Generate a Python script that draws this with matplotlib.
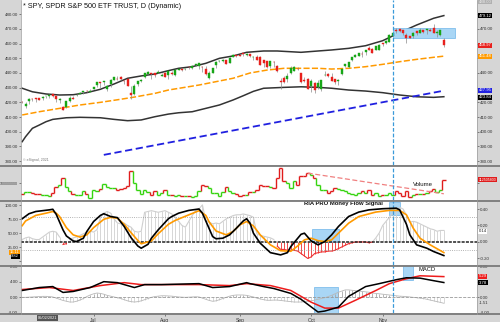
import numpy as np
import pandas as pd
import matplotlib
matplotlib.use('Agg')
import matplotlib.pyplot as plt
from matplotlib.collections import LineCollection
from matplotlib.patches import Rectangle

plt.rcParams['font.family'] = ['Liberation Sans', 'DejaVu Sans']

# daily bars, 2 Jun 2021 - 26 Nov 2021
holidays = ['2021-07-05', '2021-09-06', '2021-11-25']
dates = pd.bdate_range('2021-06-02', '2021-11-26')
dates = dates[~dates.isin(pd.to_datetime(holidays))]

opens = [420.37, 417.85, 420.75, 422.59, 423.11, 423.18, 422.96, 424.20, 424.43, 425.42, 424.63, 421.67, 417.09, 416.80, 420.85, 423.19, 424.89, 425.90, 427.17, 427.88, 427.21,
         428.87, 431.67, 433.78, 433.66, 428.78, 432.53, 435.43, 436.24, 437.40, 434.81, 436.01, 426.19, 425.68, 432.34, 434.74, 437.52, 439.31, 439.91, 439.68, 439.82, 437.91,
         440.34, 438.44, 439.78, 438.94, 442.10, 442.46, 442.61, 443.82, 443.62, 445.59, 444.53, 444.24, 442.96, 436.27, 440.23, 445.16, 447.97, 448.17, 448.61, 447.12, 450.97, 452.13,
         452.56, 453.32, 451.98, 452.71, 450.89, 450.70, 451.04, 448.64, 448.12, 444.62, 447.32, 444.92, 434.88, 436.53, 436.05, 439.85, 441.44, 442.81, 439.69, 435.19, 436.02,
         430.98, 433.00, 430.24, 429.27, 438.39, 439.48, 437.16, 435.67, 434.71, 439.08, 444.75, 443.97, 448.92, 451.13, 451.77, 453.13, 454.28, 457.20, 456.45, 455.46, 455.87,
         460.30, 460.22, 461.30, 465.36, 469.28, 469.70, 469.32, 465.58, 465.21, 465.12, 468.64, 467.15, 469.00, 469.24, 469.61, 470.89, 467.22, 466.06, 462.34]
highs = [421.23, 419.99, 422.92, 422.78, 423.21, 423.26, 424.63, 424.43, 425.37, 425.46, 424.87, 423.02, 417.83, 421.06, 424.00, 424.05, 425.55, 427.09, 427.65, 428.56, 428.78,
         430.60, 434.10, 434.01, 434.76, 431.73, 435.84, 437.35, 437.84, 437.92, 435.53, 436.06, 431.41, 432.42, 434.70, 435.72, 440.30, 441.03, 439.94, 440.30, 441.80, 440.06,
         440.93, 441.28, 441.12, 441.85, 442.94, 442.80, 443.44, 443.88, 445.26, 445.94, 447.11, 444.96, 444.63, 441.14, 443.71, 448.23, 448.54, 449.46, 448.86, 450.65, 453.07, 452.49,
         453.11, 454.05, 453.63, 452.81, 451.67, 452.57, 451.49, 448.92, 448.34, 448.41, 448.36, 445.37, 436.56, 437.91, 440.03, 444.89, 444.67, 444.05, 440.04, 437.04, 436.77,
         436.03, 433.96, 435.49, 435.12, 441.68, 439.89, 440.26, 436.10, 436.05, 442.66, 446.26, 447.55, 450.71, 452.73, 453.83, 454.67, 455.90, 458.49, 457.16, 458.40, 459.56,
         460.70, 462.23, 466.46, 467.48, 470.65, 470.23, 469.57, 467.38, 465.29, 467.86, 468.81, 470.49, 469.19, 470.01, 470.94, 473.54, 469.10, 469.57, 463.90]
lows = [419.29, 416.28, 418.84, 421.19, 420.32, 421.41, 421.55, 422.82, 422.82, 423.54, 419.92, 419.32, 414.70, 415.93, 420.08, 422.51, 424.62, 425.55, 425.89, 427.13, 427.18,
        428.80, 430.52, 430.01, 431.51, 427.52, 430.71, 434.97, 435.31, 434.91, 432.72, 430.92, 421.97, 424.83, 431.01, 433.69, 436.79, 439.26, 435.99, 437.31, 439.81, 437.77,
        437.21, 436.10, 438.73, 438.20, 441.80, 441.31, 441.88, 442.62, 442.66, 445.07, 442.87, 440.85, 438.92, 436.12, 439.71, 443.44, 447.42, 447.77, 446.16, 447.06, 450.71, 450.92,
        451.55, 451.91, 451.55, 450.74, 448.86, 448.72, 445.31, 444.11, 443.22, 443.44, 444.02, 441.02, 428.86, 433.07, 433.75, 439.60, 441.21, 441.90, 432.94, 433.85, 428.78,
        427.23, 426.36, 429.39, 427.54, 438.20, 437.19, 434.62, 432.78, 431.54, 438.58, 444.09, 443.27, 448.27, 451.01, 451.31, 451.05, 452.39, 455.56, 453.86, 455.45, 455.56,
        458.20, 460.08, 460.83, 464.99, 466.92, 468.20, 465.88, 460.66, 463.75, 464.11, 466.23, 467.07, 467.48, 466.34, 468.50, 467.35, 464.45, 465.19, 457.77]
closes = [420.33, 418.77, 422.60, 422.19, 422.28, 421.65, 423.61, 424.31, 425.26, 424.48, 422.11, 421.97, 414.92, 420.86, 423.11, 422.60, 425.10, 426.61, 427.47, 427.70, 428.06,
          430.43, 433.72, 432.93, 434.46, 430.92, 435.52, 437.08, 435.59, 436.24, 434.75, 431.34, 424.97, 431.06, 434.55, 435.46, 439.94, 441.02, 439.01, 438.83, 440.65, 438.51,
          437.59, 441.15, 438.98, 441.76, 442.49, 442.13, 442.68, 443.78, 445.11, 445.92, 446.97, 444.04, 439.18, 439.86, 443.36, 447.26, 447.97, 448.91, 446.26, 450.25, 452.23, 451.56,
          451.80, 453.19, 453.08, 451.46, 450.91, 448.98, 445.44, 446.58, 444.17, 447.88, 447.17, 441.40, 434.04, 433.63, 437.86, 443.18, 443.91, 442.64, 433.72, 434.45, 429.14,
          434.24, 428.64, 433.10, 434.90, 438.66, 437.86, 434.69, 433.62, 435.18, 442.50, 445.87, 447.19, 450.64, 452.41, 453.59, 453.12, 455.55, 455.96, 453.94, 458.32, 459.25,
          460.04, 461.90, 466.09, 467.38, 468.53, 468.93, 467.38, 463.62, 463.77, 467.27, 467.43, 469.28, 468.14, 469.73, 468.89, 467.57, 468.19, 469.44, 458.97]

# volume in millions of shares
volume = [57, 65, 65, 60, 56, 56, 53, 53, 49, 60, 84, 91, 120, 84, 67, 57, 53, 53, 67, 57,
          40, 74, 67, 76, 98, 84, 80, 80, 71, 76, 80, 87, 147, 100, 74, 57, 74, 63, 53, 67,
          53, 60, 74, 53, 53, 47, 53, 49, 49, 49, 44, 47, 67, 94, 90, 80, 60, 60, 47, 63,
          84, 67, 60, 57, 49, 53, 53, 63, 63, 74, 94, 90, 87, 84, 80, 120, 160, 107, 100, 80,
          107, 94, 127, 127, 140, 134, 120, 94, 74, 74, 60, 67, 80, 76, 71, 67, 60, 57, 53, 60,
          67, 60, 74, 53, 60, 49, 53, 53, 60, 53, 67, 60, 47, 67, 43, 53, 56, 56, 57, 60,
          67, 76, 63, 74, 113]

# Bollinger (50) bands and middle average, read at selected bars
upper_idx = [0, 3, 7, 11, 15, 19, 23, 27, 31, 35, 39, 43, 46, 50, 54, 58, 62, 66, 71, 75, 82, 87, 91, 96, 101, 106, 111, 116, 121, 124]
upper_val = [429.6, 427.2, 425.7, 425.0, 425.2, 426.6, 428.9, 432.5, 436.4, 438.0, 439.3, 441.6, 443.2, 444.3, 446.6, 450.0, 451.6, 454.1, 455.0, 455.0, 454.1, 455.0, 455.7, 456.8, 458.6, 462.0, 467.5, 472.7, 477.3, 479.12]
lower_idx = [0, 1, 3, 5, 7, 9, 13, 17, 23, 27, 31, 35, 39, 43, 46, 50, 54, 58, 62, 65, 68, 71, 77, 82, 87, 91, 96, 101, 106, 111, 116, 121, 124]
lower_val = [393.2, 396.6, 402.3, 404.5, 406.8, 408.4, 409.5, 409.8, 409.5, 408.4, 407.5, 408.0, 410.2, 412.0, 412.9, 413.6, 415.9, 418.2, 421.6, 424.5, 427.5, 429.6, 430.2, 430.6, 430.2, 429.6, 428.4, 427.7, 426.6, 425.0, 423.8, 423.4, 423.84]
ma_idx = [0, 5, 11, 17, 23, 29, 33, 39, 43, 52, 62, 67, 72, 77, 82, 87, 91, 96, 101, 106, 111, 116, 121, 124]
ma_val = [411.4, 413.6, 415.9, 418.2, 420.0, 422.1, 423.6, 426.1, 428.4, 431.8, 436.4, 440.0, 442.0, 443.2, 443.2, 443.2, 442.7, 443.2, 444.3, 445.9, 447.7, 449.3, 450.7, 451.48]

trend_idx = [24, 124]
trend_val = [384.2, 427.95]
vol_trend_idx = [84, 124]
vol_trend_val = [140, 57]

# money flow panel
stoch_k_idx = [0, 2, 4, 6, 8, 9, 10, 11, 12, 13, 15, 16, 18, 19, 21, 23, 24, 26, 28, 30, 32, 34, 35, 37, 38, 40, 43, 44, 46, 49, 52, 53, 55, 56, 57, 59, 61, 63, 65, 66, 67, 68, 70, 73, 76, 78, 79, 82, 83, 85, 87, 89, 91, 93, 96, 99, 102, 106, 110, 111, 113, 114, 116, 119, 121, 124]
stoch_k_val = [76, 85, 89, 90.5, 92, 93, 84, 70, 56, 45, 36, 35, 41, 53, 71, 82, 85, 80, 78, 62, 42, 27, 23, 30, 41, 56, 76, 80, 86, 91, 93.5, 86, 58, 44, 40, 41, 47, 59, 72, 76, 68, 50, 32, 15, 11, 15, 26, 48, 50, 36, 29, 35, 47, 62, 80, 88, 92, 94, 95, 92, 66, 47, 29, 23, 17, 9.8]
stoch_d_idx = [0, 1, 4, 7, 9, 10, 11, 13, 15, 17, 19, 21, 24, 26, 28, 30, 32, 34, 35, 38, 40, 43, 45, 49, 52, 54, 55, 57, 60, 62, 64, 66, 68, 70, 73, 76, 79, 81, 83, 85, 87, 89, 91, 93, 96, 99, 104, 108, 111, 113, 115, 117, 120, 124]
stoch_d_val = [63.5, 72, 82, 86, 89, 86, 80, 60, 47, 43, 47, 60, 75, 78.5, 77, 66, 51, 37, 31, 36, 49, 66, 73, 83, 90.5, 82, 70, 54, 47, 53, 65, 71, 63, 47, 29, 18.5, 17.5, 27, 38, 41, 36.5, 35, 38, 50, 68, 80, 88, 91, 91, 83, 59, 41, 29, 15.11]
money_flow = [0.03, 0.05, 0.06, 0.04, 0.03, 0.03, 0.06, 0.09, 0.12, 0.13, 0.12, 0.06, -0.03, -0.02, 0.03, 0.05, 0.06,
              0.08, 0.1, 0.12, 0.13, 0.12, 0.15, 0.3, 0.35, 0.37, 0.35, 0.28, 0.23, 0.22, 0.23, 0.2, 0.18, 0.13, 0.12, 0.13,
              0.36, 0.37, 0.38, 0.37, 0.36, 0.37, 0.38, 0.36, 0.34, 0.3, 0.25, 0.2, 0.18, 0.25, 0.32, 0.38, 0.4, 0.45,
              0.26, 0.24, 0.22, 0.23, 0.22, 0.25, 0.28, 0.3, 0.32, 0.33, 0.33, 0.34, 0.33, 0.32, 0.3,
              0.1, 0.08, 0.07, 0.06, 0.05, 0.03,
              -0.05, -0.09, -0.09, -0.1, -0.1, -0.1, -0.11, -0.14, -0.17, -0.2, -0.18, -0.14, -0.13, -0.12, -0.12, -0.11,
              -0.11, -0.1, -0.08, -0.06, -0.04, -0.02, -0.01, 0.0,
              0.0, 0.0, 0.0, -0.01, 0.0, 0.05, 0.11, 0.2, 0.25, 0.3, 0.35, 0.38, 0.42, 0.4, 0.33,
              0.24, 0.25, 0.24, 0.22, 0.2, 0.18, 0.16, 0.15, 0.13, 0.14, 0.14]

# MACD panel
macd_idx = [0, 5, 9, 12, 15, 20, 24, 28, 33, 36, 41, 52, 56, 61, 66, 67, 71, 74, 79, 82, 87, 89, 93, 96, 101, 105, 110, 113, 117, 121, 124]
macd_val = [1.75, 2.5, 2.75, 1.25, 1.5, 2.5, 4.0, 3.75, 2.5, 3.25, 3.25, 3.5, 2.5, 2.75, 3.75, 3.5, 2.75, 2.25, 1.0, -0.5, -3.75, -3.5, -2.5, 0.25, 2.75, 3.5, 4.5, 5.0, 4.9, 4.25, 3.78]
signal_idx = [0, 8, 15, 23, 30, 35, 41, 52, 61, 66, 73, 79, 85, 89, 93, 98, 104, 108, 113, 117, 124]
signal_val = [2.0, 2.5, 1.75, 3.0, 3.75, 3.25, 3.25, 3.25, 3.0, 3.5, 3.0, 1.75, -1.25, -2.75, -2.75, -0.75, 1.75, 3.5, 4.75, 5.5, 5.29]
macd_hist = [0, 0, 0.05, 0.1, 0.15, 0.2, 0.25, 0.25, 0.2, 0.1,
             -0.2, -0.5, -0.8, -1.0, -1.2, -1.2, -1.0, -0.7,
             -0.3, 0.2, 0.6, 0.9, 1.1, 1.0, 0.8, 0.5, 0.3, 0.1, -0.1, -0.3, -0.6,
             -0.9, -1.1, -1.2, -1.1, -0.9, -0.6, -0.3,
             0.0, 0.2, 0.3, 0.4, 0.4, 0.35, 0.3, 0.2, 0.1, 0.05, 0.0, 0.05, 0.1, 0.15, 0.1,
             -0.2, -0.5, -0.8, -1.0, -0.9, -0.6,
             -0.3, 0.0, 0.3, 0.5, 0.6, 0.6, 0.6, 0.5, 0.3, 0.1,
             -0.2, -0.4, -0.6, -0.75, -0.75, -0.7, -0.7, -0.8,
             -0.9, -1.0, -1.1, -1.2, -1.2, -1.2, -1.1, -1.0, -0.9, -0.7,
             -0.5, -0.3, -0.1, 0.2, 0.5, 0.9, 1.3,
             1.6, 1.9, 1.9, 1.8, 1.7, 1.6, 1.5, 1.4, 1.3, 1.1, 1.0, 0.9, 0.8, 0.7,
             0.6, 0.5, 0.4, 0.3, 0.25, 0.2, 0.1, 0.0,
             -0.1, -0.2, -0.3, -0.5, -0.7, -0.9, -1.1, -1.3, -1.51]

signal_bar = 109
month_labels = ['Jul', 'Aug', 'Sep', 'Oct', 'Nov']

o = np.array(opens)
h = np.array(highs)
l = np.array(lows)
c = np.array(closes)
n = len(c)
idx = np.arange(n)
up = c >= o

W, H = 500, 322
fig = plt.figure(figsize=(5, 3.22), dpi=100, facecolor='#d6d6d6')


def px_axes(x0, y0, x1, y1):
    return fig.add_axes([x0 / W, 1 - y1 / H, (x1 - x0) / W, (y1 - y0) / H])


X0, X1 = 21, 477
ax_p = px_axes(X0, 0, X1, 165)
ax_v = px_axes(X0, 166, X1, 200)
ax_mf = px_axes(X0, 201, X1, 265)
ax_st = ax_mf.twinx()
ax_d = px_axes(X0, 266, X1, 313)

xlim = (-0.35, 133.75)
tick_fs = 3.2
for ax in [ax_p, ax_v, ax_mf, ax_st, ax_d]:
    ax.set_xlim(*xlim)
    for s in ax.spines.values():
        s.set_visible(False)
    ax.tick_params(axis='y', labelsize=tick_fs, length=1.5, width=0.4, pad=0.5, colors='#333333')
    ax.tick_params(axis='x', bottom=False, labelbottom=False)
for ax in [ax_p, ax_v, ax_d]:
    ax.tick_params(axis='y', left=True, right=True, labelleft=True, labelright=True)


def tag(ax, val, text, bg, fg='white', right=True, fs=3.1):
    ax.text(1.004 if right else -0.004, val, text, transform=ax.get_yaxis_transform(),
            ha='left' if right else 'right', va='center', fontsize=fs, color=fg,
            bbox=dict(boxstyle='square,pad=0.12', fc=bg, ec='none'), clip_on=False, zorder=20)


def hide_right(ax, values):
    for t, v in zip(ax.yaxis.get_major_ticks(), ax.get_yticks()):
        if any(abs(v - x) < 1e-9 for x in values):
            t.label2.set_visible(False)


# ---- price panel
ax_p.set_ylim(377.3, 489.75)
ax_p.set_yticks(np.arange(380, 481, 10))
ax_p.yaxis.set_major_formatter(plt.FormatStrFormatter('%.2f'))
hide_right(ax_p, [480, 460, 450, 430])
ax_p.plot(upper_idx, upper_val, color='#333333', lw=1.1)
ax_p.plot(lower_idx, lower_val, color='#333333', lw=1.1)
ax_p.plot(ma_idx, ma_val, color='#ff9a00', lw=1.1, dashes=(4, 1.5))
ax_p.plot(trend_idx, trend_val, color='#2020e0', lw=1.3, dashes=(4, 2))
ax_p.vlines(idx, l, h, color='#8c8c8c', lw=0.5, zorder=3)
ax_p.bar(idx, np.abs(c - o), bottom=np.minimum(o, c), width=0.62,
         color=np.where(up, '#17a617', '#e8201c'), edgecolor=np.where(up, '#17a617', '#e8201c'),
         lw=0.3, zorder=4)
ax_p.add_patch(Rectangle((signal_bar, 463.7), 18.3, 6.8, fc='#a9d6f5', ec='#6fb6ea', lw=0.5, zorder=2))
tag(ax_p, 488.4, '488.00', '#b0b0b0', fg='#e8e8e8')
tag(ax_p, 479.12, '479.12', '#000000')
tag(ax_p, 458.97, '458.97', '#e8201c')
tag(ax_p, 451.48, '451.48', '#ff9a00')
tag(ax_p, 428.3, '427.95', '#2020e0')
tag(ax_p, 423.5, '423.84', '#000000')
fig.text(23 / W, 1 - 6 / H, '* SPY, SPDR S&P 500 ETF TRUST, D (Dynamic)', fontsize=5.2,
         color='#111111', va='center', ha='left')
fig.text(23 / W, 1 - 160 / H, '\u00a9 eSignal, 2021', fontsize=2.6, color='#777777', va='center')

# ---- volume panel
ax_v.set_ylim(32, 168.7)
ax_v.set_yticks([100])
ax_v.set_yticklabels(['100000000'])
ax_v.tick_params(axis='y', labelsize=2.6)
hide_right(ax_v, [100])
vol = np.array(volume)
vcol = np.where(up, '#35d40f', '#e01c1c')
segs, cols = [], []
for i in range(n):
    segs.append([(i - 0.5, vol[i]), (i + 0.5, vol[i])])
    cols.append(vcol[i])
    if i + 1 < n:
        segs.append([(i + 0.5, vol[i]), (i + 0.5, vol[i + 1])])
        cols.append(vcol[i + 1])
ax_v.add_collection(LineCollection(segs, colors=cols, lw=1.0, capstyle='butt'))
ax_v.plot(vol_trend_idx, vol_trend_val, color='#f08080', lw=0.9, dashes=(4, 2))
ax_v.text(115, 95, 'Volume', fontsize=4.3, color='#111111', va='center')
tag(ax_v, 113, '112505800', '#e01c1c', fs=2.6)

# ---- money flow panel
mf = np.array(money_flow)
ax_mf.set_ylim(-0.279, 0.497)
ax_mf.set_yticks([-0.2, 0.0, 0.2, 0.4])
ax_mf.yaxis.set_major_formatter(plt.FormatStrFormatter('%.2f'))
ax_mf.tick_params(axis='y', left=False, labelleft=False, right=True, labelright=True)
pos = mf >= 0
ax_mf.vlines(idx[pos], 0, mf[pos], color='#d0d0d0', lw=0.6)
ax_mf.vlines(idx[~pos], 0, mf[~pos], color='#ee3030', lw=0.6)
ax_mf.plot(idx, np.where(pos, mf, np.nan), color='#cfcfcf', lw=0.8)
ax_mf.plot(idx, np.where(mf <= 0, mf, np.nan), color='#ee3030', lw=0.8)
ax_mf.axhline(0, color='#222222', lw=1.1, dashes=(2, 0.8))
ax_mf.add_patch(Rectangle((85.1, 0.0), 8.1, 0.155, fc='#a9d6f5', ec='#6fb6ea', lw=0.5, zorder=1))
ax_mf.add_patch(Rectangle((107.9, 0.324), 3.2, 0.161, fc='#a9d6f5', ec='#6fb6ea', lw=0.5, zorder=1))
tag(ax_mf, 0.13, '0.14', 'white', fg='#222222')

ax_st.set_ylim(-7.2, 107.9)
ax_st.set_yticks([0, 25, 50, 75, 100])
ax_st.yaxis.set_major_formatter(plt.FormatStrFormatter('%.2f'))
ax_st.yaxis.tick_left()
ax_st.tick_params(axis='y', left=True, labelleft=True, right=False, labelright=False)
for t, v in zip(ax_st.yaxis.get_major_ticks(), ax_st.get_yticks()):
    if v == 0:
        t.label1.set_visible(False)
ax_st.axhline(80, color='#9a9a9a', lw=0.6, ls=':')
ax_st.axhline(20, color='#9a9a9a', lw=0.6, ls=':')
ax_st.plot(stoch_d_idx, stoch_d_val, color='#ff9a00', lw=1.2)
ax_st.plot(stoch_k_idx, stoch_k_val, color='#000000', lw=1.2)
ax_st.text(83, 103, 'RIA PRO Money Flow Signal', fontsize=4.2, color='#111111', va='center', weight='bold')
tag(ax_st, 16, '15.11', '#ff9a00', right=False, fs=2.9)
tag(ax_st, 8.5, '9.82', '#000000', right=False, fs=2.9)

# ---- MACD panel
hist = np.array(macd_hist)
ax_d.set_ylim(-4.0, 7.75)
ax_d.set_yticks([-4, 0, 4, 8])
ax_d.yaxis.set_major_formatter(plt.FormatStrFormatter('%.2f'))
hp = hist >= 0
ax_d.vlines(idx[hp], 0, hist[hp], color='#a8a8a8', lw=0.6)
ax_d.vlines(idx[~hp], 0, hist[~hp], color='#d2d2d2', lw=0.6)
ax_d.plot(idx, hist, color='#b8b8b8', lw=0.6)
ax_d.axhline(0, color='#9a9a9a', lw=0.6, ls='--')
ax_d.add_patch(Rectangle((85.8, -3.9), 7.1, 6.5, fc='#a9d6f5', ec='#6fb6ea', lw=0.5, zorder=1))
ax_d.add_patch(Rectangle((112, 4.5), 3, 3.5, fc='#a9d6f5', ec='#6fb6ea', lw=0.5, zorder=1))
ax_d.plot(signal_idx, signal_val, color='#ee1c1c', lw=1.1)
ax_d.plot(macd_idx, macd_val, color='#000000', lw=1.1)
ax_d.text(116.4, 7.2, 'MACD', fontsize=4.2, color='#111111', va='center')
tag(ax_d, 5.4, '5.29', '#ee1c1c')
tag(ax_d, 3.7, '3.78', '#000000')
tag(ax_d, -1.51, '-1.51', '#d6d6d6', fg='#333333')

month_pos = [int(np.argmax(dates.month == m)) for m in [7, 8, 9, 10, 11]]
ax_d.set_xticks(month_pos)
ax_d.set_xticklabels(month_labels)
ax_d.tick_params(axis='x', bottom=True, labelbottom=True, labelsize=3.6, length=2, width=0.4,
                 pad=1.5, colors='#333333')

# signal line through all panels
for ax in [ax_p, ax_v, ax_mf, ax_d]:
    ax.axvline(signal_bar, color='#3a9ad9', lw=0.9, dashes=(3, 1.5), zorder=6)

# panel separators
for y in [165.5, 200.5, 265.5, 313.5]:
    fig.add_artist(plt.Line2D([0, 1], [1 - y / H, 1 - y / H], color='#7a7a7a', lw=1.3))
fig.add_artist(plt.Line2D([X1 / W, X1 / W], [1 - 313.5 / H, 1], color='#9a9a9a', lw=0.5))
fig.add_artist(plt.Line2D([X0 / W, X0 / W], [1 - 313.5 / H, 1], color='#9a9a9a', lw=0.5))

fig.text(38 / W, 1 - 318 / H, '06/02/2021', fontsize=2.8, color='white', va='center',
         bbox=dict(boxstyle='square,pad=0.2', fc='#555555', ec='none'))

plt.savefig('out.png', dpi=100, facecolor=fig.get_facecolor())
